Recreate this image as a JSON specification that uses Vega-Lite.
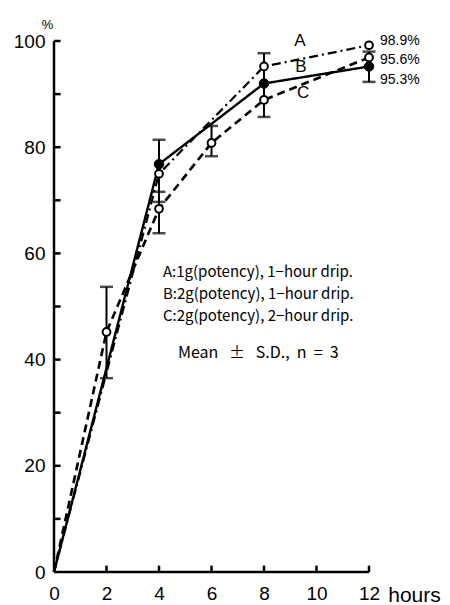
{
  "$schema": "https://vega.github.io/schema/vega-lite/v6.json",
  "width": 315,
  "height": 531,
  "autosize": {"type": "none"},
  "padding": {"left": 54, "top": 41, "right": 81, "bottom": 33},
  "background": "white",
  "config": {"view": {"stroke": null}, "font": "Liberation Sans"},
  "datasets": {
    "lines": [
      {"series": "A", "x": 0, "y": 0},
      {"series": "A", "x": 4, "y": 75.0},
      {"series": "A", "x": 8, "y": 95.2},
      {"series": "A", "x": 12, "y": 99.2},
      {"series": "B", "x": 0, "y": 0},
      {"series": "B", "x": 4, "y": 76.8},
      {"series": "B", "x": 8, "y": 92.0},
      {"series": "B", "x": 12, "y": 95.2},
      {"series": "C", "x": 0, "y": 0},
      {"series": "C", "x": 2, "y": 45.2},
      {"series": "C", "x": 4, "y": 68.4},
      {"series": "C", "x": 6, "y": 80.8},
      {"series": "C", "x": 8, "y": 88.9},
      {"series": "C", "x": 12, "y": 96.9}
    ],
    "errs": [
      {"x": 2, "lo": 36.5, "hi": 53.7},
      {"x": 4, "lo": 63.8, "hi": 81.4},
      {"x": 6, "lo": 78.3, "hi": 84.0},
      {"x": 8, "lo": 85.7, "hi": 97.7},
      {"x": 12, "lo": 92.3, "hi": 98.0}
    ],
    "caps": [
      {"x": 2, "y": 36.5}, {"x": 2, "y": 53.7},
      {"x": 4, "y": 63.8}, {"x": 4, "y": 69.7}, {"x": 4, "y": 71.6}, {"x": 4, "y": 81.4},
      {"x": 6, "y": 78.3}, {"x": 6, "y": 84.0},
      {"x": 8, "y": 85.7}, {"x": 8, "y": 97.7},
      {"x": 12, "y": 92.3}, {"x": 12, "y": 98.0}
    ],
    "yTicks": [
      {"y": 10}, {"y": 20}, {"y": 30}, {"y": 40}, {"y": 50},
      {"y": 60}, {"y": 70}, {"y": 80}, {"y": 90}, {"y": 100}
    ],
    "xTicks": [
      {"x": 2}, {"x": 4}, {"x": 6}, {"x": 8}, {"x": 10}, {"x": 12}
    ],
    "curveLabels": [
      {"x": 9.37, "y": 100.0, "label": "A"},
      {"x": 9.41, "y": 95.1, "label": "B"},
      {"x": 9.49, "y": 90.2, "label": "C"}
    ],
    "endLabels": [
      {"x": 12.42, "y": 100.0, "label": "98.9%"},
      {"x": 12.42, "y": 96.4, "label": "95.6%"},
      {"x": 12.42, "y": 92.6, "label": "95.3%"}
    ],
    "notes": [
      {"x": 4.15, "y": 56.5, "label": "A:1g(potency), 1−hour drip."},
      {"x": 4.15, "y": 52.4, "label": "B:2g(potency), 1−hour drip."},
      {"x": 4.15, "y": 48.2, "label": "C:2g(potency), 2−hour drip."}
    ],
    "meanNote": [
      {"x": 4.72, "y": 41.2, "label": "Mean\u00a0\u00a0 ±\u00a0\u00a0 S.D.,\u00a0 n\u00a0 =\u00a0 3"}
    ]
  },
  "layer": [
    {
      "data": {"name": "lines"},
      "mark": {"type": "line", "color": "black"},
      "encoding": {
        "x": {
          "field": "x", "type": "quantitative",
          "scale": {"domain": [0, 12], "nice": false, "zero": false},
          "axis": {
            "values": [0, 2, 4, 6, 8, 10, 12],
            "grid": false,
            "domain": false,
            "ticks": false,
            "title": "hours",
            "titleX": 360,
            "titleY": 29,
            "titleAlign": "center",
            "titleBaseline": "alphabetic",
            "titleFontSize": 21,
            "titleFontWeight": "normal",
            "titleColor": "black",
            "labelFontSize": 19,
            "labelColor": "black",
            "labelFlush": false,
            "labelPadding": 12
          }
        },
        "y": {
          "field": "y", "type": "quantitative",
          "scale": {"domain": [0, 100], "nice": false, "zero": false},
          "axis": {
            "values": [0, 20, 40, 60, 80, 100],
            "grid": false,
            "domain": false,
            "ticks": false,
            "title": "%",
            "titleAngle": 0,
            "titleX": -7,
            "titleY": -17,
            "titleAlign": "center",
            "titleBaseline": "middle",
            "titleFontSize": 13,
            "titleFontWeight": "normal",
            "titleColor": "black",
            "labelFontSize": 19,
            "labelColor": "black",
            "labelPadding": 9,
            "labelFlush": false
          }
        },
        "detail": {"field": "series"},
        "strokeDash": {
          "field": "series", "type": "nominal",
          "scale": {"domain": ["A", "B", "C"], "range": [[9, 4, 2, 4], [1, 0], [8, 5]]},
          "legend": null
        },
        "strokeWidth": {
          "field": "series", "type": "nominal",
          "scale": {"domain": ["A", "B", "C"], "range": [2.2, 2.6, 2.2]},
          "legend": null
        }
      }
    },
    {
      "data": {"name": "yTicks"},
      "mark": {"type": "rule", "color": "black", "strokeWidth": 2.5},
      "encoding": {
        "x": {"datum": 0, "type": "quantitative"},
        "x2": {"datum": 0.25},
        "y": {"field": "y", "type": "quantitative"}
      }
    },
    {
      "data": {"name": "xTicks"},
      "mark": {"type": "rule", "color": "black", "strokeWidth": 2.5},
      "encoding": {
        "x": {"field": "x", "type": "quantitative"},
        "y": {"datum": 0, "type": "quantitative"},
        "y2": {"datum": 1.2}
      }
    },
    {
      "data": {"values": [{}]},
      "mark": {"type": "rule", "color": "black", "strokeWidth": 2.5},
      "encoding": {
        "x": {"datum": 0, "type": "quantitative"},
        "y": {"datum": 0, "type": "quantitative"},
        "y2": {"datum": 100}
      }
    },
    {
      "data": {"values": [{}]},
      "mark": {"type": "rule", "color": "black", "strokeWidth": 2.5},
      "encoding": {
        "x": {"datum": 0, "type": "quantitative"},
        "x2": {"datum": 12},
        "y": {"datum": 0, "type": "quantitative"}
      }
    },
    {
      "data": {"name": "errs"},
      "mark": {"type": "rule", "color": "black", "strokeWidth": 2},
      "encoding": {
        "x": {"field": "x", "type": "quantitative"},
        "y": {"field": "lo", "type": "quantitative"},
        "y2": {"field": "hi"}
      }
    },
    {
      "data": {"name": "caps"},
      "mark": {"type": "tick", "orient": "horizontal", "color": "black", "size": 13, "thickness": 2.5},
      "encoding": {
        "x": {"field": "x", "type": "quantitative"},
        "y": {"field": "y", "type": "quantitative"}
      }
    },
    {
      "data": {"name": "lines"},
      "transform": [{"filter": "datum.x > 0 && datum.series != 'B'"}],
      "mark": {"type": "point", "shape": "circle", "filled": true, "fill": "white", "stroke": "black", "strokeWidth": 2, "size": 60, "opacity": 1},
      "encoding": {
        "x": {"field": "x", "type": "quantitative"},
        "y": {"field": "y", "type": "quantitative"}
      }
    },
    {
      "data": {"name": "lines"},
      "transform": [{"filter": "datum.x > 0 && datum.series == 'B'"}],
      "mark": {"type": "point", "shape": "circle", "filled": true, "fill": "black", "stroke": "black", "strokeWidth": 1, "size": 90, "opacity": 1},
      "encoding": {
        "x": {"field": "x", "type": "quantitative"},
        "y": {"field": "y", "type": "quantitative"}
      }
    },
    {
      "data": {"name": "curveLabels"},
      "mark": {"type": "text", "fontSize": 17, "align": "center", "baseline": "middle", "color": "black"},
      "encoding": {
        "x": {"field": "x", "type": "quantitative"},
        "y": {"field": "y", "type": "quantitative"},
        "text": {"field": "label"}
      }
    },
    {
      "data": {"name": "endLabels"},
      "mark": {"type": "text", "fontSize": 14, "align": "left", "baseline": "middle", "color": "black"},
      "encoding": {
        "x": {"field": "x", "type": "quantitative"},
        "y": {"field": "y", "type": "quantitative"},
        "text": {"field": "label"}
      }
    },
    {
      "data": {"name": "notes"},
      "mark": {"type": "text", "fontSize": 15, "font": "Noto Sans CJK JP", "align": "left", "baseline": "middle", "color": "black"},
      "encoding": {
        "x": {"field": "x", "type": "quantitative"},
        "y": {"field": "y", "type": "quantitative"},
        "text": {"field": "label"}
      }
    },
    {
      "data": {"name": "meanNote"},
      "mark": {"type": "text", "fontSize": 16, "font": "Noto Sans CJK JP", "align": "left", "baseline": "middle", "color": "black"},
      "encoding": {
        "x": {"field": "x", "type": "quantitative"},
        "y": {"field": "y", "type": "quantitative"},
        "text": {"field": "label"}
      }
    }
  ]
}
